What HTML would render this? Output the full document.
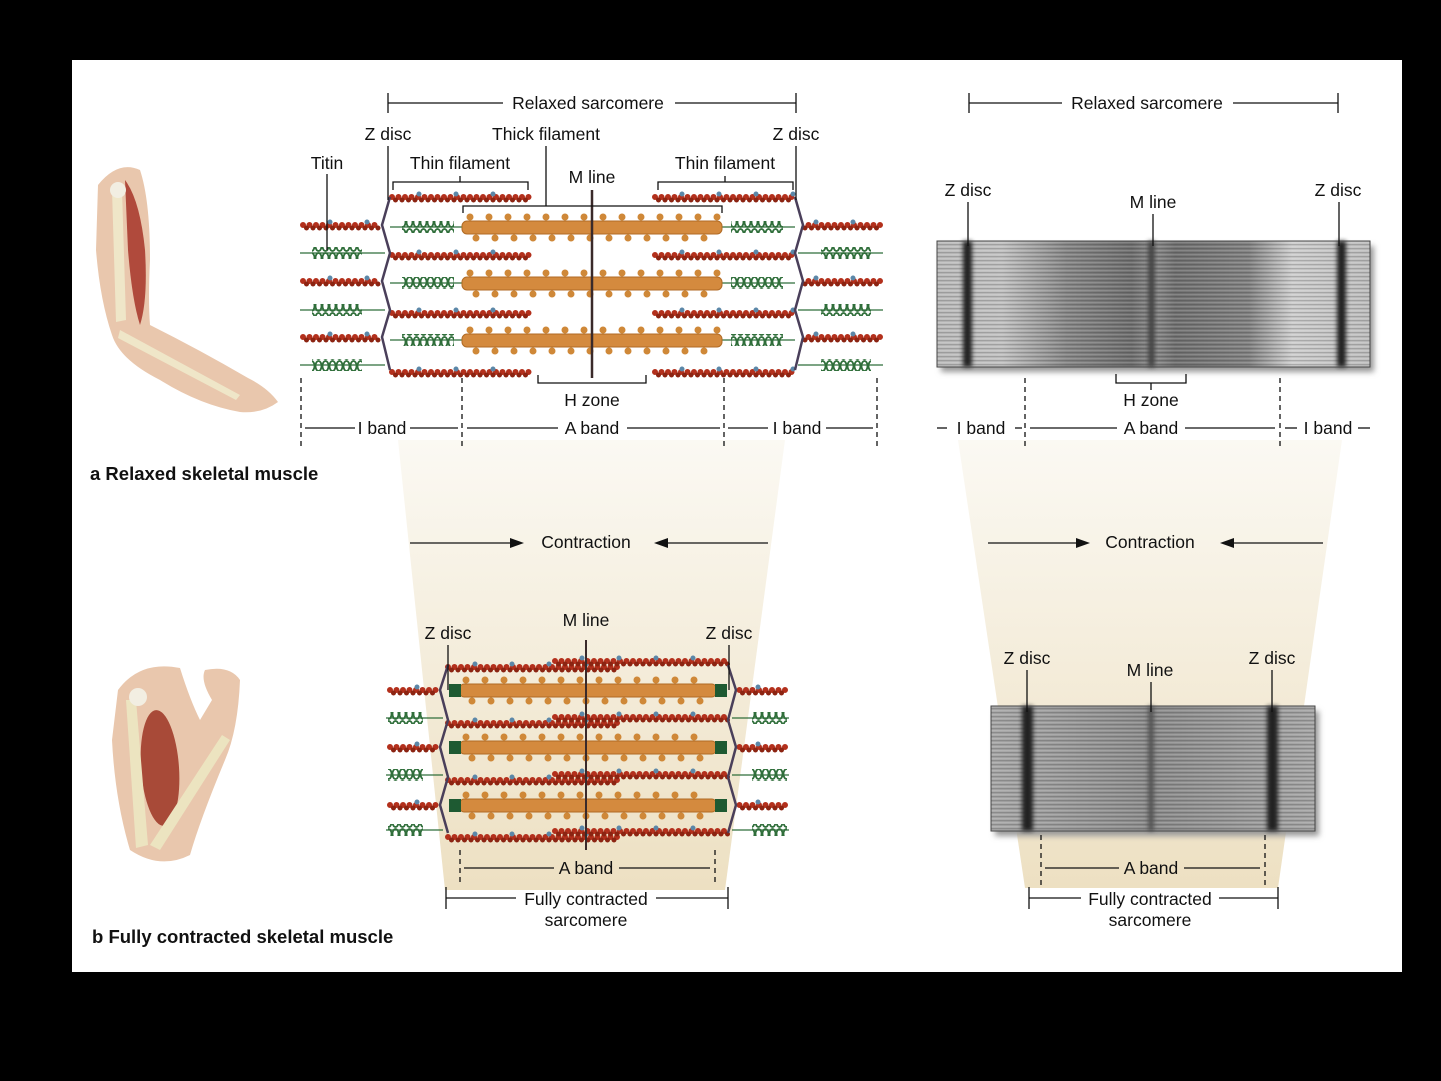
<!DOCTYPE html>
<html><head><meta charset="utf-8"><style>
html,body{margin:0;padding:0;background:#000;}
svg{display:block;}
text{font-family:"Liberation Sans",Arial,sans-serif;font-size:17.5px;fill:#111;}
.b{font-weight:bold;font-size:18.5px;}
.ln{stroke:#111;stroke-width:1.3;fill:none;}
.ds{stroke:#111;stroke-width:1.3;stroke-dasharray:5 4;fill:none;}
.a1{stroke:#b3301c;stroke-width:6;stroke-dasharray:0 6.5;stroke-linecap:round;fill:none;}
.a2{stroke:#8c2412;stroke-width:5;stroke-dasharray:0 6.5;stroke-dashoffset:3;stroke-linecap:round;fill:none;}
.a3{stroke:#5b87a8;stroke-width:5;stroke-dasharray:0 37;stroke-dashoffset:10;stroke-linecap:round;fill:none;}
.th{fill:#d48a3e;stroke:#b06a24;stroke-width:1;}
.hd{stroke:#cf8838;stroke-width:7;stroke-dasharray:0 19;stroke-linecap:round;fill:none;}
.tt{stroke:#2f6e3a;stroke-width:1.3;fill:none;}
.z{stroke:#4a3f5a;stroke-width:2.5;fill:none;}
</style></head><body>
<svg width="1441" height="1081" viewBox="0 0 1441 1081" xmlns="http://www.w3.org/2000/svg">
<defs>
<linearGradient id="beige" x1="0" y1="0" x2="0" y2="1">
<stop offset="0" stop-color="#fbf9f3"/><stop offset="1" stop-color="#ede0c2"/></linearGradient>
<pattern id="coil" width="7" height="12" patternUnits="userSpaceOnUse">
<ellipse cx="3.5" cy="6" rx="3" ry="5" fill="none" stroke="#2f6e3a" stroke-width="1.8"/></pattern>
<linearGradient id="mg1" x1="0" y1="0" x2="1" y2="0">
<stop offset="0" stop-color="#bdbdbd"/><stop offset="0.15" stop-color="#c4c4c4"/>
<stop offset="0.3" stop-color="#8a8a8a"/><stop offset="0.45" stop-color="#727272"/>
<stop offset="0.5" stop-color="#8e8e8e"/><stop offset="0.55" stop-color="#747474"/>
<stop offset="0.72" stop-color="#858585"/><stop offset="0.82" stop-color="#d0d0d0"/>
<stop offset="1" stop-color="#c0c0c0"/></linearGradient>
<linearGradient id="mg2" x1="0" y1="0" x2="1" y2="0">
<stop offset="0" stop-color="#aaaaaa"/><stop offset="0.5" stop-color="#8e8e8e"/><stop offset="1" stop-color="#a8a8a8"/></linearGradient>
<pattern id="stri" width="8" height="4" patternUnits="userSpaceOnUse">
<rect width="8" height="1.3" fill="#000" opacity="0.18"/><rect y="2.2" width="8" height="0.8" fill="#fff" opacity="0.15"/></pattern>
<filter id="bl"><feGaussianBlur stdDeviation="2"/></filter>
<filter id="sh"><feGaussianBlur stdDeviation="3"/></filter>
</defs>
<rect x="72" y="60" width="1330" height="912" fill="#fff"/>
<polygon points="398,440 785,440 725,890 445,890" fill="url(#beige)"/>
<polygon points="958,440 1342,440 1278,888 1025,888" fill="url(#beige)"/>

<g>
<path d="M98,185 Q118,160 140,170 Q150,200 150,260 Q148,300 150,325 Q200,350 248,378 Q268,388 278,402 Q262,414 240,412 Q200,405 160,380 Q120,360 112,335 Q100,300 96,250 Z" fill="#e9c7ad"/>
<path d="M125,180 Q140,200 145,250 Q148,300 140,325 Q132,300 128,250 Z" fill="#b04a3c"/>
<path d="M112,190 L122,190 L126,320 L116,322 Z M120,330 L240,395 L236,400 L118,338 Z" fill="#efe6c8"/>
<circle cx="118" cy="190" r="8" fill="#f2eee2"/>
</g>
<g>
<path d="M118,690 Q140,660 180,668 Q190,700 200,720 L212,700 Q200,680 205,670 Q230,665 240,680 Q238,730 225,760 Q200,820 190,855 Q160,870 130,850 Q115,800 112,740 Z" fill="#e9c7ad"/>
<ellipse cx="160" cy="768" rx="19" ry="58" transform="rotate(-4 160 768)" fill="#a84a38"/>
<path d="M126,700 L136,700 L148,845 L136,848 Z M150,845 L222,735 L230,740 L160,850 Z" fill="#ece4c0"/>
<circle cx="138" cy="697" r="9" fill="#f2eee2"/>
</g>

<g>
<g id="ol">
<line class="a1" x1="303" y1="225" x2="380" y2="225"/><line class="a2" x1="303" y1="228" x2="380" y2="228"/><line class="a3" x1="303" y1="222" x2="380" y2="222"/>
<line class="a1" x1="303" y1="281" x2="380" y2="281"/><line class="a2" x1="303" y1="284" x2="380" y2="284"/><line class="a3" x1="303" y1="278" x2="380" y2="278"/>
<line class="a1" x1="303" y1="337" x2="380" y2="337"/><line class="a2" x1="303" y1="340" x2="380" y2="340"/><line class="a3" x1="303" y1="334" x2="380" y2="334"/>
<line class="tt" x1="300" y1="253" x2="385" y2="253"/><rect x="312" y="247" width="50" height="12" fill="url(#coil)"/>
<line class="tt" x1="300" y1="310" x2="385" y2="310"/><rect x="312" y="304" width="50" height="12" fill="url(#coil)"/>
<line class="tt" x1="300" y1="365" x2="385" y2="365"/><rect x="312" y="359" width="50" height="12" fill="url(#coil)"/>
</g>
<use href="#ol" transform="translate(1183,0) scale(-1,1)"/>
<g id="it">
<line class="tt" x1="390" y1="227" x2="465" y2="227"/><rect x="402" y="221" width="52" height="12" fill="url(#coil)"/>
<line class="tt" x1="390" y1="283" x2="465" y2="283"/><rect x="402" y="277" width="52" height="12" fill="url(#coil)"/>
<line class="tt" x1="390" y1="340" x2="465" y2="340"/><rect x="402" y="334" width="52" height="12" fill="url(#coil)"/>
</g>
<use href="#it" transform="translate(1185,0) scale(-1,1)"/>
<g id="tk">
<line class="hd" x1="470" y1="217" x2="720" y2="217"/><line class="hd" x1="476" y1="238" x2="720" y2="238"/>
<rect class="th" x="462" y="221" width="260" height="13" rx="5"/>
</g>
<use href="#tk" transform="translate(0,56)"/>
<use href="#tk" transform="translate(0,113)"/>
<g id="tn">
<line class="a1" x1="392" y1="197" x2="530" y2="197"/><line class="a2" x1="392" y1="200" x2="530" y2="200"/><line class="a3" x1="392" y1="194" x2="530" y2="194"/>
<line class="a1" x1="655" y1="197" x2="794" y2="197"/><line class="a2" x1="655" y1="200" x2="794" y2="200"/><line class="a3" x1="655" y1="194" x2="794" y2="194"/>
</g>
<use href="#tn" transform="translate(0,58)"/>
<use href="#tn" transform="translate(0,116)"/>
<use href="#tn" transform="translate(0,175)"/>
<polyline class="z" points="390,197 382,225 390,253 382,281 390,310 382,337 390,370"/>
<polyline class="z" points="795,197 803,225 795,253 803,281 795,310 803,337 795,370"/>
<line x1="592" y1="190" x2="592" y2="378" stroke="#3a2a2a" stroke-width="2.5"/>
</g>
<g>
<line class="ln" x1="388" y1="93" x2="388" y2="113"/><line class="ln" x1="796" y1="93" x2="796" y2="113"/>
<line class="ln" x1="388" y1="103" x2="503" y2="103"/><line class="ln" x1="675" y1="103" x2="796" y2="103"/>
<text x="588" y="109" text-anchor="middle">Relaxed sarcomere</text>
<text x="388" y="140" text-anchor="middle">Z disc</text><line class="ln" x1="388" y1="146" x2="388" y2="200"/>
<text x="796" y="140" text-anchor="middle">Z disc</text><line class="ln" x1="796" y1="146" x2="796" y2="200"/>
<text x="546" y="140" text-anchor="middle">Thick filament</text><line class="ln" x1="546" y1="146" x2="546" y2="206"/>
<text x="327" y="169" text-anchor="middle">Titin</text><line class="ln" x1="327" y1="174" x2="327" y2="250"/>
<text x="460" y="169" text-anchor="middle">Thin filament</text>
<text x="725" y="169" text-anchor="middle">Thin filament</text>
<polyline class="ln" points="393,190 393,182 528,182 528,190"/><line class="ln" x1="460" y1="176" x2="460" y2="182"/>
<polyline class="ln" points="658,190 658,182 793,182 793,190"/><line class="ln" x1="725" y1="176" x2="725" y2="182"/>
<text x="592" y="183" text-anchor="middle">M line</text>
<polyline class="ln" points="463,213 463,206 722,206 722,213"/>
<polyline class="ln" points="538,375 538,383 646,383 646,375"/>
<text x="592" y="406" text-anchor="middle">H zone</text>
<line class="ds" x1="301" y1="378" x2="301" y2="448"/><line class="ds" x1="462" y1="378" x2="462" y2="448"/>
<line class="ds" x1="724" y1="378" x2="724" y2="448"/><line class="ds" x1="877" y1="378" x2="877" y2="448"/>
<line class="ln" x1="305" y1="428" x2="355" y2="428"/><text x="382" y="434" text-anchor="middle">I band</text><line class="ln" x1="410" y1="428" x2="458" y2="428"/>
<line class="ln" x1="467" y1="428" x2="558" y2="428"/><text x="592" y="434" text-anchor="middle">A band</text><line class="ln" x1="627" y1="428" x2="720" y2="428"/>
<line class="ln" x1="728" y1="428" x2="768" y2="428"/><text x="797" y="434" text-anchor="middle">I band</text><line class="ln" x1="826" y1="428" x2="873" y2="428"/>
<text x="90" y="480" class="b">a  Relaxed skeletal muscle</text>
</g>

<g>
<line class="ln" x1="410" y1="543" x2="512" y2="543" stroke-width="2"/><polygon points="524,543 510,538 510,548" fill="#111"/>
<text x="586" y="548" text-anchor="middle">Contraction</text>
<line class="ln" x1="666" y1="543" x2="768" y2="543" stroke-width="2"/><polygon points="654,543 668,538 668,548" fill="#111"/>
<line class="ln" x1="988" y1="543" x2="1078" y2="543" stroke-width="2"/><polygon points="1090,543 1076,538 1076,548" fill="#111"/>
<text x="1150" y="548" text-anchor="middle">Contraction</text>
<line class="ln" x1="1232" y1="543" x2="1323" y2="543" stroke-width="2"/><polygon points="1220,543 1234,538 1234,548" fill="#111"/>
</g>

<g>
<g id="col">
<line class="a1" x1="390" y1="690" x2="438" y2="690"/><line class="a2" x1="390" y1="693" x2="438" y2="693"/><line class="a3" x1="390" y1="687" x2="438" y2="687"/>
<line class="a1" x1="390" y1="747" x2="438" y2="747"/><line class="a2" x1="390" y1="750" x2="438" y2="750"/><line class="a3" x1="390" y1="744" x2="438" y2="744"/>
<line class="a1" x1="390" y1="805" x2="438" y2="805"/><line class="a2" x1="390" y1="808" x2="438" y2="808"/><line class="a3" x1="390" y1="802" x2="438" y2="802"/>
<line class="tt" x1="386" y1="718" x2="443" y2="718"/><rect x="388" y="712" width="35" height="12" fill="url(#coil)"/>
<line class="tt" x1="386" y1="775" x2="443" y2="775"/><rect x="388" y="769" width="35" height="12" fill="url(#coil)"/>
<line class="tt" x1="386" y1="830" x2="443" y2="830"/><rect x="388" y="824" width="35" height="12" fill="url(#coil)"/>
</g>
<use href="#col" transform="translate(1175,0) scale(-1,1)"/>
<g id="ctk">
<line class="hd" x1="466" y1="680" x2="710" y2="680"/><line class="hd" x1="472" y1="701" x2="710" y2="701"/>
<rect class="th" x="460" y="684" width="256" height="13" rx="4"/>
<rect x="449" y="684" width="12" height="13" fill="#1e5a32"/><rect x="715" y="684" width="12" height="13" fill="#1e5a32"/>
</g>
<use href="#ctk" transform="translate(0,57)"/>
<use href="#ctk" transform="translate(0,115)"/>
<g id="ctn">
<line class="a1" x1="448" y1="667" x2="620" y2="667"/><line class="a2" x1="448" y1="670" x2="620" y2="670"/><line class="a3" x1="448" y1="664" x2="620" y2="664"/>
<line class="a1" x1="555" y1="661" x2="728" y2="661"/><line class="a2" x1="555" y1="664" x2="728" y2="664"/><line class="a3" x1="555" y1="658" x2="728" y2="658"/>
</g>
<use href="#ctn" transform="translate(0,56)"/>
<use href="#ctn" transform="translate(0,113)"/>
<use href="#ctn" transform="translate(0,170)"/>
<polyline class="z" points="448,665 440,690 448,720 440,747 448,777 440,805 448,833"/>
<polyline class="z" points="728,665 736,690 728,720 736,747 728,777 736,805 728,833"/>
<line x1="586" y1="640" x2="586" y2="850" stroke="#3a2a2a" stroke-width="2"/>
</g>
<g>
<text x="448" y="639" text-anchor="middle">Z disc</text><line class="ln" x1="448" y1="645" x2="448" y2="690"/>
<text x="729" y="639" text-anchor="middle">Z disc</text><line class="ln" x1="729" y1="645" x2="729" y2="690"/>
<text x="586" y="626" text-anchor="middle">M line</text>
<line class="ds" x1="460" y1="850" x2="460" y2="885"/><line class="ds" x1="715" y1="850" x2="715" y2="885"/>
<line class="ln" x1="464" y1="868" x2="554" y2="868"/><text x="586" y="874" text-anchor="middle">A band</text><line class="ln" x1="619" y1="868" x2="710" y2="868"/>
<line class="ln" x1="446" y1="887" x2="446" y2="909"/><line class="ln" x1="728" y1="887" x2="728" y2="909"/>
<line class="ln" x1="446" y1="898" x2="516" y2="898"/><line class="ln" x1="656" y1="898" x2="728" y2="898"/>
<text x="586" y="905" text-anchor="middle">Fully contracted</text>
<text x="586" y="926" text-anchor="middle">sarcomere</text>
<text x="92" y="943" class="b">b  Fully contracted skeletal muscle</text>
</g>

<g>
<rect x="941" y="246" width="433" height="126" fill="#999" filter="url(#sh)"/>
<rect x="937" y="241" width="433" height="126" fill="url(#mg1)"/>
<rect x="937" y="241" width="433" height="126" fill="url(#stri)"/>
<g filter="url(#bl)">
<rect x="963" y="241" width="9" height="126" fill="#222"/>
<rect x="1337" y="241" width="9" height="126" fill="#222"/>
<rect x="1148" y="241" width="7" height="126" fill="#444"/>
</g>
<rect x="937" y="241" width="433" height="126" fill="none" stroke="#444" stroke-width="1"/>

<rect x="995" y="711" width="324" height="125" fill="#999" filter="url(#sh)"/>
<rect x="991" y="706" width="324" height="125" fill="url(#mg2)"/>
<rect x="991" y="706" width="324" height="125" fill="url(#stri)"/>
<g filter="url(#bl)">
<rect x="1022" y="706" width="11" height="125" fill="#222"/>
<rect x="1267" y="706" width="11" height="125" fill="#222"/>
<rect x="1148" y="706" width="6" height="125" fill="#555"/>
</g>
<rect x="991" y="706" width="324" height="125" fill="none" stroke="#444" stroke-width="1"/>
</g>
<g>
<line class="ln" x1="969" y1="93" x2="969" y2="113"/><line class="ln" x1="1338" y1="93" x2="1338" y2="113"/>
<line class="ln" x1="969" y1="103" x2="1062" y2="103"/><line class="ln" x1="1233" y1="103" x2="1338" y2="103"/>
<text x="1147" y="109" text-anchor="middle">Relaxed sarcomere</text>
<text x="968" y="196" text-anchor="middle">Z disc</text><line class="ln" x1="968" y1="202" x2="968" y2="246"/>
<text x="1338" y="196" text-anchor="middle">Z disc</text><line class="ln" x1="1339" y1="202" x2="1339" y2="246"/>
<text x="1153" y="208" text-anchor="middle">M line</text><line class="ln" x1="1153" y1="214" x2="1153" y2="246"/>
<polyline class="ln" points="1116,374 1116,383 1186,383 1186,374"/><line class="ln" x1="1151" y1="383" x2="1151" y2="390"/>
<text x="1151" y="406" text-anchor="middle">H zone</text>
<line class="ds" x1="1025" y1="378" x2="1025" y2="447"/><line class="ds" x1="1280" y1="378" x2="1280" y2="447"/>
<line class="ln" x1="937" y1="428" x2="947" y2="428"/><text x="981" y="434" text-anchor="middle">I band</text><line class="ln" x1="1015" y1="428" x2="1022" y2="428"/>
<line class="ln" x1="1030" y1="428" x2="1117" y2="428"/><text x="1151" y="434" text-anchor="middle">A band</text><line class="ln" x1="1185" y1="428" x2="1275" y2="428"/>
<line class="ln" x1="1285" y1="428" x2="1297" y2="428"/><text x="1328" y="434" text-anchor="middle">I band</text><line class="ln" x1="1358" y1="428" x2="1370" y2="428"/>

<text x="1027" y="664" text-anchor="middle">Z disc</text><line class="ln" x1="1027" y1="670" x2="1027" y2="712"/>
<text x="1272" y="664" text-anchor="middle">Z disc</text><line class="ln" x1="1272" y1="670" x2="1272" y2="712"/>
<text x="1150" y="676" text-anchor="middle">M line</text><line class="ln" x1="1151" y1="682" x2="1151" y2="712"/>
<line class="ds" x1="1041" y1="835" x2="1041" y2="888"/><line class="ds" x1="1265" y1="835" x2="1265" y2="888"/>
<line class="ln" x1="1045" y1="868" x2="1119" y2="868"/><text x="1151" y="874" text-anchor="middle">A band</text><line class="ln" x1="1184" y1="868" x2="1260" y2="868"/>
<line class="ln" x1="1029" y1="887" x2="1029" y2="909"/><line class="ln" x1="1278" y1="887" x2="1278" y2="909"/>
<line class="ln" x1="1029" y1="898" x2="1081" y2="898"/><line class="ln" x1="1219" y1="898" x2="1278" y2="898"/>
<text x="1150" y="905" text-anchor="middle">Fully contracted</text>
<text x="1150" y="926" text-anchor="middle">sarcomere</text>
</g>
</svg>
</body></html>
